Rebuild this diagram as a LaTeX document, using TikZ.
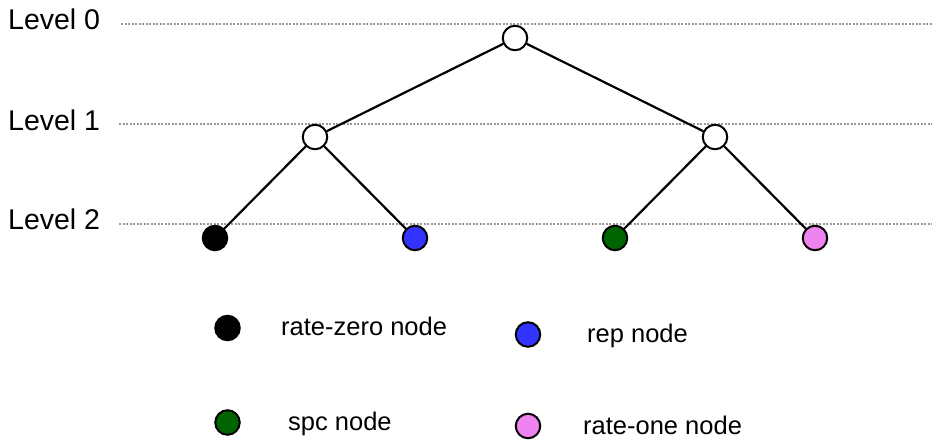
\documentclass[tikz,border=0pt]{standalone}
\usepackage{fontspec}
\setmainfont{Liberation Sans}
\usetikzlibrary{positioning, backgrounds}
\colorlet{myblue}{rgb,255:red,51;green,51;blue,255}
\definecolor{mygreen}{RGB}{0,100,0}
\definecolor{mypink}{RGB}{238,130,238}
\colorlet{mygray}{black!40}
\tikzset{
  node/.style={circle,draw=black,line width=2pt,minimum size=24.5pt,inner sep=0pt},
  node free/.style={node,fill=white},
  node zero/.style={node,fill=black},
  node rep/.style={node,fill=myblue},
  node spc/.style={node,fill=mygreen},
  node one/.style={node,fill=mypink},
  connect/.style={line width=2.2pt,black},
  level line/.style={mygray,line width=2.4pt,dash pattern=on 2pt off 1.5pt},
  level/.style={font=\fontsize{28.5}{32}\selectfont,anchor=base west,inner sep=0pt},
  legend/.style={font=\fontsize{25.5}{29}\selectfont,anchor=base west,inner sep=0pt}
}
\begin{document}
\begin{tikzpicture}[x=1pt,y=-1pt]
  \useasboundingbox (0,0) rectangle (932,445);

  % --- LEVELS ---
  \node[level] (L0) at (8, 29) {Level 0};
  \node[level] (L1) at (8, 130) {Level 1};
  \node[level] (L2) at (8, 229) {Level 2};
  \coordinate (E0) at (932, 24);
  \coordinate (E1) at (932, 124);
  \coordinate (E2) at (932, 224);

  % --- TREE ---
  \node[node free] (N0) at (515, 38) {};
  \node[node free] (N1-1) at (315, 137) {};
  \node[node free] (N1-2) at (715, 137) {};
  \node[node zero] (N2-1) at (215, 238) {};
  \node[node rep] (N2-2) at (415, 238) {};
  \node[node spc] (N2-3) at (615, 238) {};
  \node[node one] (N2-4) at (815, 238) {};

  \foreach \i in {1,2} \draw[connect] (N0) -- (N1-\i);
  \foreach \i/\j in {1/1,1/2,2/3,2/4} \draw[connect] (N1-\i) -- (N2-\j);

  \begin{pgfonlayer}{background}
    \draw[level line] (121, 24) -- (E0);
    \foreach \i in {1,2} \draw[level line] (119, 124+100*\i-100) -- (E\i);
  \end{pgfonlayer}

  % --- LEGEND ---
  \node[node zero] (K1) at (227.5, 328) {};
  \node[legend] (T1) at (281, 335) {rate-zero node};
  \node[node rep] (K2) at (528, 334.5) {};
  \node[legend] (T2) at (587, 342) {rep node};
  \node[node spc] (K3) at (227.5, 422.5) {};
  \node[legend] (T3) at (288, 430) {spc node};
  \node[node one] (K4) at (528, 426) {};
  \node[legend] (T4) at (583, 434) {rate-one node};

\end{tikzpicture}
\end{document}
